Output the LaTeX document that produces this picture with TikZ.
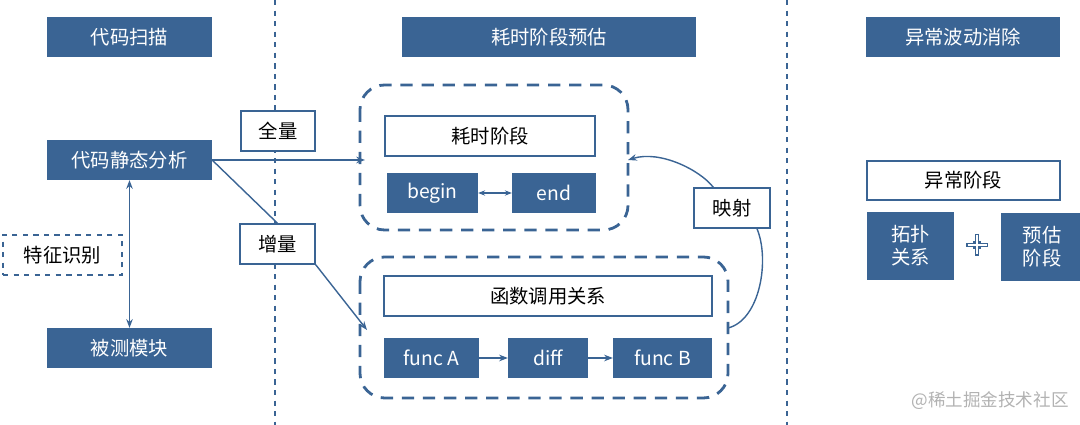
\documentclass[tikz,border=0pt]{standalone}
\usepackage{fontspec}
\setmainfont{Noto Sans CJK SC}
\usetikzlibrary{arrows.meta}
\definecolor{db}{HTML}{3A6494}
\begin{document}
\begin{tikzpicture}[x=0.02cm,y=-0.02cm,
 fill box/.style={fill=db,text=white,font=\fontsize{11}{13}\selectfont},
 white box/.style={draw=db,line width=0.8pt,fill=white,font=\fontsize{11}{13}\selectfont},
 ln/.style={draw=db,line width=0.8pt},
 arr/.style={ln,-{Stealth[length=5pt]}},
 sep/.style={draw=db,dashed,line width=0.7pt},
 group/.style={draw=db,line width=1.6pt,dash pattern=on 7pt off 5pt,rounded corners=14pt}]
\useasboundingbox (0,0) rectangle (1080,425);
\draw[sep] (275,0) -- (275,425);
\draw[sep] (787,0) -- (787,425);
\newcommand{\fb}[6]{\node[fill box,minimum width=#4*0.02cm-0.01cm,minimum height=#5*0.02cm-0.01cm,inner sep=0pt,align=center] (#1) at (#2,#3) {#6};}
\newcommand{\wb}[6]{\node[white box,minimum width=#4*0.02cm,minimum height=#5*0.02cm,inner sep=0pt,align=center] (#1) at (#2,#3) {#6};}
\fb{h1}{129.5}{37}{165}{40}{代码扫描}
\fb{h2}{549}{37}{294}{40}{耗时阶段预估}
\fb{h3}{963}{37}{194}{40}{异常波动消除}
\fb{sa}{129.5}{160}{165}{40}{代码静态分析}
\fb{tm}{129.5}{348}{165}{40}{被测模块}
\node[draw=db,dashed,line width=0.8pt,minimum width=119*0.02cm,minimum height=40*0.02cm,inner sep=0pt,font=\fontsize{11}{13}\selectfont] (tz) at (62.5,255) {特征识别};
\draw[ln,{Stealth[length=5pt]}-{Stealth[length=5pt]}] (sa.south) -- (tm.north);
\draw[group] (360,85) rectangle (628,230);
\draw[group] (360,257) rectangle (728,398);
\wb{qa}{278}{131}{74}{40}{全量}
\wb{hs}{490}{136}{210}{40}{耗时阶段}
\fb{bg}{432.5}{193}{91}{40}{begin}
\fb{en}{554}{193}{84}{40}{end}
\draw[ln,{Stealth[length=4pt]}-{Stealth[length=4pt]}] (bg.east) -- (en.west);
\wb{hg}{548}{296}{328}{40}{函数调用关系}
\fb{fa}{431.5}{358}{95}{40}{func A}
\fb{df}{548}{358}{80}{40}{diff}
\fb{fbb}{662.5}{358}{99}{40}{func B}
\draw[arr] (fa.east) -- (df.west);
\draw[arr] (df.east) -- (fbb.west);
\coordinate (t1) at (365,160);
\coordinate (t2) at (367,330);
\coordinate (m1) at (728,328);
\coordinate (m2) at (628,160);
\draw[arr] (sa.east) -- (t1);
\wb{zl}{277.5}{244}{75}{40}{增量}
\draw[ln] (sa.east) -- (zl.north);
\draw[arr] (zl.south east) -- (t2);
\wb{ys}{732}{208}{76}{40}{映射}
\draw[ln] (m1) .. controls (760,320) and (770,260) .. (ys.south -| 757,0);
\draw[arr] (ys.north west) ++(20,0) .. controls (700,170) and (660,150) .. (m2);
\wb{yc}{963.5}{180.5}{193}{39}{异常阶段}
\fb{tp}{910.5}{246}{87}{68}{拓扑\\关系}
\fb{yg}{1042}{247}{82}{68}{预估\\阶段}
\node[draw=db,fill=white,line width=2pt,inner sep=0pt,minimum size=2pt] (pl) at (977,245) {};
\draw[db,line width=2.2pt] (966,245) -- (988,245) (977,234) -- (977,256);
\draw[white,line width=0.8pt] (967.5,245) -- (986.5,245) (977,235.5) -- (977,254.5);
\node[text=gray!60,font=\fontsize{10}{12}\selectfont] (wm) at (990,401) {@稀土掘金技术社区};
\end{tikzpicture}
\end{document}
